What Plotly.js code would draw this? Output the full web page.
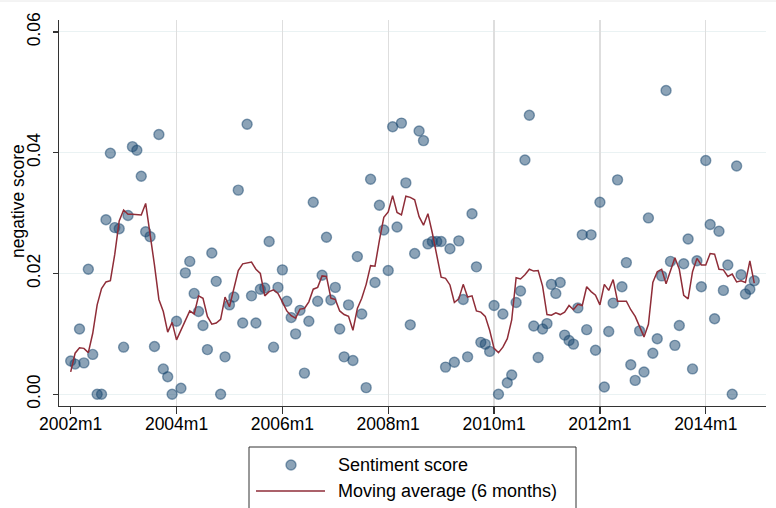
<!DOCTYPE html>
<html>
<head>
<meta charset="utf-8">
<script src="https://cdn.plot.ly/plotly-3.0.1.min.js"></script>
<style>
  html, body { margin: 0; padding: 0; background: #fff; }
  #chart { width: 776px; height: 508px; }
</style>
</head>
<body>
<div id="chart"></div>
<script>
// ---- data (monthly, 2002m1 .. 2014m12) ----
const startYear = 2002;
const sentimentScore = [
  0.0055, 0.0050, 0.0108, 0.0052, 0.0207, 0.0066, 0.0000, 0.0000, 0.0289, 0.0399, 0.0276, 0.0274,
  0.0078, 0.0296, 0.0410, 0.0404, 0.0361, 0.0269, 0.0261, 0.0079, 0.0430, 0.0042, 0.0029, 0.0000,
  0.0121, 0.0010, 0.0201, 0.0220, 0.0167, 0.0137, 0.0114, 0.0074, 0.0234, 0.0187, 0.0000, 0.0062,
  0.0148, 0.0161, 0.0338, 0.0118, 0.0447, 0.0163, 0.0118, 0.0174, 0.0176, 0.0253, 0.0078, 0.0177,
  0.0206, 0.0154, 0.0127, 0.0100, 0.0139, 0.0035, 0.0121, 0.0318, 0.0154, 0.0197, 0.0260, 0.0156,
  0.0177, 0.0108, 0.0062, 0.0148, 0.0056, 0.0228, 0.0133, 0.0011, 0.0356, 0.0185, 0.0313, 0.0272,
  0.0205, 0.0443, 0.0277, 0.0449, 0.0350, 0.0115, 0.0233, 0.0436, 0.0420, 0.0249, 0.0253, 0.0253,
  0.0253, 0.0045, 0.0241, 0.0053, 0.0254, 0.0157, 0.0062, 0.0299, 0.0211, 0.0086, 0.0083, 0.0071,
  0.0147, 0.0000, 0.0133, 0.0019, 0.0032, 0.0152, 0.0171, 0.0388, 0.0462, 0.0113, 0.0061, 0.0108,
  0.0117, 0.0182, 0.0167, 0.0185, 0.0098, 0.0089, 0.0083, 0.0143, 0.0264, 0.0107, 0.0264, 0.0073,
  0.0318, 0.0012, 0.0104, 0.0151, 0.0355, 0.0178, 0.0218, 0.0049, 0.0023, 0.0105, 0.0037, 0.0292,
  0.0068, 0.0092, 0.0196, 0.0503, 0.0220, 0.0081, 0.0114, 0.0216, 0.0257, 0.0042, 0.0221, 0.0178,
  0.0387, 0.0281, 0.0125, 0.0270, 0.0172, 0.0214, 0.0000, 0.0378, 0.0198, 0.0166, 0.0174, 0.0188
];
const movingAverage = [
  0.0037, 0.0068, 0.0077, 0.0076, 0.0069, 0.0101, 0.0148, 0.0175, 0.0186, 0.0188, 0.0232, 0.0287,
  0.0305, 0.0298, 0.0298, 0.0297, 0.0297, 0.0316, 0.0267, 0.0214, 0.0157, 0.0137, 0.0103, 0.0119,
  0.0090, 0.0106, 0.0123, 0.0138, 0.0133, 0.0163, 0.0159, 0.0129, 0.0116, 0.0118, 0.0124, 0.0161,
  0.0145, 0.0175, 0.0205, 0.0216, 0.0218, 0.0219, 0.0207, 0.0200, 0.0163, 0.0170, 0.0173, 0.0167,
  0.0153, 0.0138, 0.0130, 0.0126, 0.0141, 0.0142, 0.0153, 0.0174, 0.0177, 0.0196, 0.0195, 0.0159,
  0.0157, 0.0138, 0.0132, 0.0129, 0.0106, 0.0142, 0.0159, 0.0182, 0.0213, 0.0212, 0.0255, 0.0293,
  0.0302, 0.0329, 0.0301, 0.0297, 0.0328, 0.0326, 0.0322, 0.0294, 0.0280, 0.0299, 0.0267, 0.0233,
  0.0194, 0.0192, 0.0181, 0.0152, 0.0158, 0.0182, 0.0161, 0.0163, 0.0138, 0.0136, 0.0129, 0.0106,
  0.0076, 0.0069, 0.0078, 0.0092, 0.0123, 0.0193, 0.0191, 0.0198, 0.0207, 0.0204, 0.0205, 0.0179,
  0.0132, 0.0131, 0.0135, 0.0132, 0.0136, 0.0147, 0.0140, 0.0149, 0.0147, 0.0178, 0.0170, 0.0164,
  0.0148, 0.0182, 0.0172, 0.0190, 0.0154, 0.0154, 0.0154, 0.0140, 0.0129, 0.0112, 0.0095, 0.0116,
  0.0185, 0.0203, 0.0207, 0.0183, 0.0206, 0.0226, 0.0207, 0.0164, 0.0158, 0.0203, 0.0225, 0.0214,
  0.0214, 0.0233, 0.0232, 0.0207, 0.0206, 0.0195, 0.0199, 0.0186, 0.0188, 0.0185, 0.0221, 0.0184
];
const xTickVals = [0, 24, 48, 72, 96, 120, 144];
const xTickText = ['2002m1', '2004m1', '2006m1', '2008m1', '2010m1', '2012m1', '2014m1'];
const yTickVals = [0, 0.02, 0.04, 0.06];
const yTickText = ['0.00', '0.02', '0.04', '0.06'];
const seriesNames = ['Sentiment score', 'Moving average (6 months)'];
const yTitle = 'negative score';

// month index (0 = 2002m1) and period labels
const monthIndex = sentimentScore.map((_, i) => i);
const periodLabel = monthIndex.map(i => (startYear + Math.floor(i / 12)) + 'm' + (i % 12 + 1));

// ---- styling ----
const FONT = 'Liberation Sans, Arial, sans-serif';
const navyFill = 'rgba(26,71,111,0.5)';
const maroon = '#8f2d38';
const axisCol = '#333333';

const W = 776, H = 508;
const M = { l: 59, r: 10, t: 20, b: 102 };
const PW = W - M.l - M.r, PH = H - M.t - M.b;
const px = v => (v - M.l) / PW;       // pixel x -> paper x
const py = v => (H - M.b - v) / PH;   // pixel y -> paper y

const xRange = [-2.65, 157.66];
const yRange = [-0.00194, 0.06197];

const traces = [
  {
    type: 'scatter', mode: 'markers', name: seriesNames[0],
    x: monthIndex, y: sentimentScore, text: periodLabel,
    xaxis: 'x', yaxis: 'y',
    marker: { symbol: 'circle', size: 10, color: navyFill,
              line: { color: navyFill, width: 1.4 } },
    showlegend: false, hoverinfo: 'text+y'
  },
  {
    type: 'scatter', mode: 'lines', name: seriesNames[1],
    x: monthIndex, y: movingAverage, text: periodLabel,
    xaxis: 'x2', yaxis: 'y',
    line: { color: maroon, width: 1.5 },
    showlegend: false, hoverinfo: 'text+y'
  }
];

const layout = {
  width: W, height: H,
  margin: M,
  paper_bgcolor: '#ffffff', plot_bgcolor: '#ffffff',
  font: { family: FONT, size: 17.5, color: '#000' },
  showlegend: false,
  xaxis: {
    range: xRange, fixedrange: true,
    tickmode: 'array', tickvals: xTickVals, ticktext: xTickText,
    ticks: 'outside', ticklen: 7, tickwidth: 1.2, tickcolor: axisCol,
    showline: true, linecolor: axisCol, linewidth: 1.2,
    showgrid: false, zeroline: false,
    ticklabelstandoff: -5,
    tickfont: { family: FONT, size: 17.5, color: '#000' }
  },
  xaxis2: {
    overlaying: 'x', anchor: 'y', side: 'bottom',
    range: xRange, fixedrange: true,
    tickmode: 'array', tickvals: xTickVals.slice(1),
    showticklabels: false, ticks: '',
    showline: false, zeroline: false,
    showgrid: true, gridcolor: '#dedede', gridwidth: 1.3
  },
  yaxis: {
    range: yRange, fixedrange: true,
    tickmode: 'array', tickvals: yTickVals, ticktext: yTickText,
    tickangle: -90,
    ticks: 'outside', ticklen: 5, tickwidth: 1.2, tickcolor: axisCol,
    showline: true, linecolor: axisCol, linewidth: 1.2,
    showgrid: true, gridcolor: '#eaf2f3', gridwidth: 1,
    zeroline: false,
    tickfont: { family: FONT, size: 17.5, color: '#000' },
    ticklabelstandoff: 6
  },
  shapes: [
    // faint outer border at top of graph region
    { type: 'line', xref: 'paper', yref: 'paper', x0: px(0), x1: px(W), y0: py(1), y1: py(1),
      line: { color: '#e8e8e8', width: 1 } },
    // legend box
    { type: 'rect', xref: 'paper', yref: 'paper', x0: px(249), x1: px(576), y0: py(447), y1: py(520),
      line: { color: '#333333', width: 1 }, fillcolor: 'rgba(0,0,0,0)' },
    // legend key: marker
    { type: 'circle', xref: 'paper', yref: 'paper', x0: px(286), x1: px(296), y0: py(460), y1: py(470),
      line: { color: navyFill, width: 1.4 }, fillcolor: navyFill },
    // legend key: line
    { type: 'line', xref: 'paper', yref: 'paper', x0: px(256), x1: px(325), y0: py(491), y1: py(491),
      line: { color: maroon, width: 1.5 } }
  ],
  annotations: [
    // y-axis title
    { xref: 'paper', yref: 'paper', x: px(18), y: py(201), xanchor: 'center', yanchor: 'middle',
      text: yTitle, textangle: -90, showarrow: false, font: { family: FONT, size: 17.5, color: '#000' } },
    // legend labels
    { xref: 'paper', yref: 'paper', x: px(336), y: py(465), xanchor: 'left', yanchor: 'middle',
      text: seriesNames[0], showarrow: false, font: { family: FONT, size: 18, color: '#000' } },
    { xref: 'paper', yref: 'paper', x: px(336), y: py(491), xanchor: 'left', yanchor: 'middle',
      text: seriesNames[1], showarrow: false, font: { family: FONT, size: 18, color: '#000' } }
  ]
};

Plotly.newPlot('chart', traces, layout, { displayModeBar: false, staticPlot: true });
</script>
</body>
</html>
